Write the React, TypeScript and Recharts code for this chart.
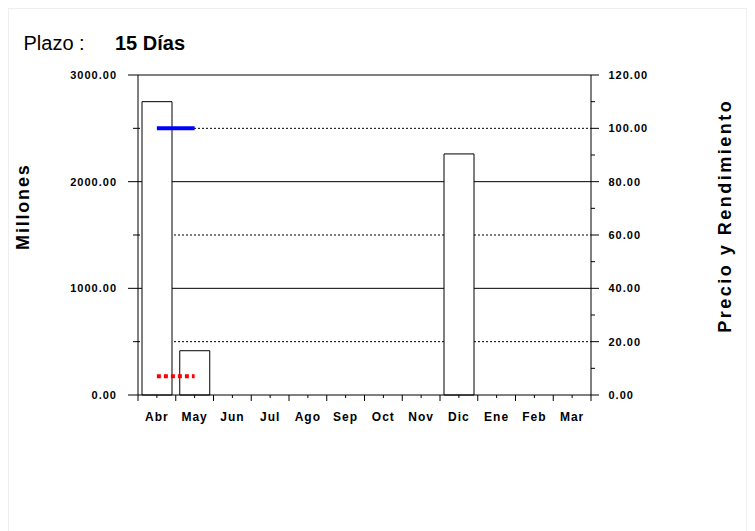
import React from 'react';
import { ComposedChart, Bar, Line, XAxis, YAxis, CartesianGrid } from 'recharts';

const months = ['Abr', 'May', 'Jun', 'Jul', 'Ago', 'Sep', 'Oct', 'Nov', 'Dic', 'Ene', 'Feb', 'Mar'];
const montos: (number | null)[] = [2750, 415, null, null, null, null, null, null, 2260, null, null, null];
const precio: (number | null)[] = [100, 100, null, null, null, null, null, null, null, null, null, null];
const rendimiento: (number | null)[] = [7, 7, null, null, null, null, null, null, null, null, null, null];

const leftTicks = [0, 500, 1000, 1500, 2000, 2500, 3000];
const leftLabeled = [0, 1000, 2000, 3000];
const rightTicks = [0, 10, 20, 30, 40, 50, 60, 70, 80, 90, 100, 110, 120];
const rightLabeled = [0, 20, 40, 60, 80, 100, 120];
const gridSolid = [40, 80, 120];
const gridDotted = [20, 60, 100];

const data = months.map((m, i) => ({
  mes: m,
  monto: montos[i],
  precio: precio[i],
  rendimiento: rendimiento[i],
}));

const CHART_W = 737;
const CHART_H = 521;
const LEFT_W = 129;
const RIGHT_W = 155;
const BAND = (CHART_W - LEFT_W - RIGHT_W) / months.length;

const FONT = '"Liberation Sans", Arial, Helvetica, sans-serif';
const tickTextStyle: React.CSSProperties = {
  fontFamily: FONT,
  fontSize: 11,
  fontWeight: 'bold',
  letterSpacing: 1,
};

const XTick = (props: any) => {
  const { x, y, payload, index } = props;
  const half = BAND / 2;
  return (
    <g>
      <line x1={x} x2={x} y1={y} y2={y + 3} stroke="#000" />
      <line x1={x - half} x2={x - half} y1={y} y2={y + 6} stroke="#000" />
      {index === months.length - 1 && (
        <line x1={x + half} x2={x + half} y1={y} y2={y + 6} stroke="#000" />
      )}
      <text x={x} y={y + 25.5} textAnchor="middle" fill="#000" style={{ ...tickTextStyle, fontSize: 12 }}>
        {payload.value}
      </text>
    </g>
  );
};

const LeftTick = (props: any) => {
  const { x, y, payload } = props;
  const major = leftLabeled.includes(payload.value);
  return (
    <g>
      <line x1={x - (major ? 10 : 5)} x2={x} y1={y} y2={y} stroke="#000" />
      {major && (
        <text x={x - 21} y={y + 4} textAnchor="end" fill="#000" style={tickTextStyle}>
          {payload.value.toFixed(2)}
        </text>
      )}
    </g>
  );
};

const RightTick = (props: any) => {
  const { x, y, payload } = props;
  const major = rightLabeled.includes(payload.value);
  return (
    <g>
      <line x1={x} x2={x + (major ? 8 : 4)} y1={y} y2={y} stroke="#000" />
      {major && (
        <text x={x + 17.5} y={y + 4} textAnchor="start" fill="#000" style={tickTextStyle}>
          {payload.value.toFixed(2)}
        </text>
      )}
    </g>
  );
};

export default function App() {
  return (
    <div
      style={{
        position: 'relative',
        width: 739,
        height: 530,
        border: '1px solid #efefef',
        boxSizing: 'border-box',
        background: '#fff',
      }}
    >
      <ComposedChart
        width={CHART_W}
        height={CHART_H}
        data={data}
        margin={{ top: 66, right: 0, bottom: 105, left: 0 }}
        barSize={30}
      >
        <CartesianGrid
          yAxisId="right"
          vertical={false}
          horizontalValues={gridSolid}
          stroke="#000"
          strokeWidth={1}
        />
        <CartesianGrid
          yAxisId="right"
          vertical={false}
          horizontalValues={gridDotted}
          stroke="#000"
          strokeWidth={1}
          strokeDasharray="2 2"
        />
        <XAxis
          dataKey="mes"
          interval={0}
          tickSize={0}
          tickMargin={0}
          tick={<XTick />}
          axisLine={{ stroke: '#000' }}
          tickLine={false}
          height={30}
        />
        <YAxis
          yAxisId="left"
          orientation="left"
          width={LEFT_W}
          domain={[0, 3000]}
          ticks={leftTicks}
          interval={0}
          tickSize={0}
          tickMargin={0}
          tick={<LeftTick />}
          tickLine={false}
          axisLine={{ stroke: '#000' }}
        />
        <YAxis
          yAxisId="right"
          orientation="right"
          width={RIGHT_W}
          domain={[0, 120]}
          ticks={rightTicks}
          interval={0}
          tickSize={0}
          tickMargin={0}
          tick={<RightTick />}
          tickLine={false}
          axisLine={{ stroke: '#000' }}
        />
        <Bar yAxisId="left" dataKey="monto" fill="#fff" stroke="#000" strokeWidth={1} isAnimationActive={false} />
        <Line
          yAxisId="right"
          dataKey="precio"
          stroke="#0000ff"
          strokeWidth={4}
          dot={false}
          activeDot={false}
          isAnimationActive={false}
        />
        <Line
          yAxisId="right"
          dataKey="rendimiento"
          stroke="#ff0000"
          strokeWidth={4}
          strokeDasharray="4 3"
          dot={false}
          activeDot={false}
          isAnimationActive={false}
        />
      </ComposedChart>
      <svg
        width={CHART_W}
        height={CHART_H}
        style={{ position: 'absolute', left: 0, top: 0, pointerEvents: 'none' }}
      >
        <text x={14.5} y={40.5} fill="#000" style={{ fontFamily: FONT, fontSize: 20 }}>
          Plazo :
        </text>
        <text x={106} y={40.5} fill="#000" style={{ fontFamily: FONT, fontSize: 20, fontWeight: 'bold' }}>
          15 Días
        </text>
        <text
          x={14.5}
          y={197.7}
          transform="rotate(-90 14.5 197.7)"
          textAnchor="middle"
          dominantBaseline="central"
          fill="#000"
          style={{ fontFamily: FONT, fontSize: 18, fontWeight: 'bold', letterSpacing: 1.8 }}
        >
          Millones
        </text>
        <text
          x={716}
          y={206.8}
          transform="rotate(-90 716 206.8)"
          textAnchor="middle"
          dominantBaseline="central"
          fill="#000"
          style={{ fontFamily: FONT, fontSize: 18, fontWeight: 'bold', letterSpacing: 2.5 }}
        >
          Precio y Rendimiento
        </text>
      </svg>
    </div>
  );
}
